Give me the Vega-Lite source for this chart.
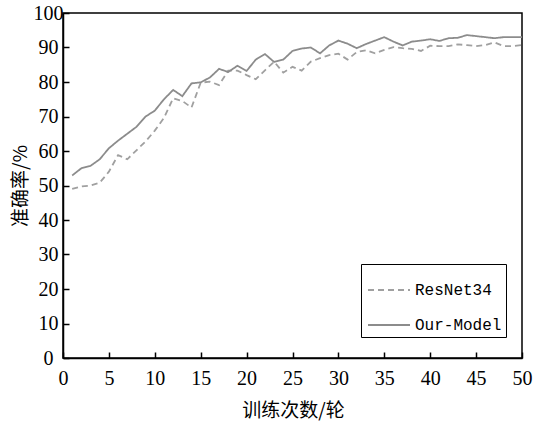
{
  "$schema": "https://vega.github.io/schema/vega-lite/v6.json",
  "width": 459,
  "height": 345,
  "autosize": {"type": "none"},
  "padding": {"left": 63, "top": 13, "right": 11, "bottom": 63},
  "background": "white",
  "config": {
    "view": {"stroke": "black", "strokeWidth": 1.5},
    "axis": {
      "grid": false,
      "domainColor": "black",
      "domainWidth": 1.5,
      "tickColor": "black",
      "tickWidth": 1.5,
      "tickSize": -6,
      "labelFont": "Liberation Serif",
      "labelFontSize": 20,
      "labelColor": "black",
      "titleFont": "Noto Sans CJK SC",
      "titleFontSize": 19,
      "titleFontWeight": "normal",
      "titleColor": "black"
    },
    "legend": {
      "strokeColor": "black",
      "fillColor": "white",
      "padding": 4,
      "symbolType": "stroke",
      "symbolSize": 1764,
      "symbolStrokeWidth": 1.8,
      "symbolOffset": 2,
      "rowPadding": 5,
      "labelOffset": 4,
      "labelFont": "Liberation Mono",
      "labelFontSize": 16,
      "labelColor": "black",
      "labelLimit": 200
    }
  },
  "data": {
    "values": [
      {"epoch": 1, "ResNet34": 49.0, "Our-Model": 52.9},
      {"epoch": 2, "ResNet34": 49.7, "Our-Model": 55.0},
      {"epoch": 3, "ResNet34": 50.0, "Our-Model": 55.7},
      {"epoch": 4, "ResNet34": 50.8, "Our-Model": 57.6},
      {"epoch": 5, "ResNet34": 54.0, "Our-Model": 60.8},
      {"epoch": 6, "ResNet34": 58.8, "Our-Model": 63.0},
      {"epoch": 7, "ResNet34": 57.6, "Our-Model": 65.0},
      {"epoch": 8, "ResNet34": 60.2, "Our-Model": 67.0},
      {"epoch": 9, "ResNet34": 62.8, "Our-Model": 70.0},
      {"epoch": 10, "ResNet34": 65.9, "Our-Model": 71.7},
      {"epoch": 11, "ResNet34": 69.6, "Our-Model": 75.0},
      {"epoch": 12, "ResNet34": 75.3, "Our-Model": 77.7},
      {"epoch": 13, "ResNet34": 74.5, "Our-Model": 75.9},
      {"epoch": 14, "ResNet34": 72.6, "Our-Model": 79.6},
      {"epoch": 15, "ResNet34": 79.8, "Our-Model": 79.9},
      {"epoch": 16, "ResNet34": 80.1, "Our-Model": 81.3},
      {"epoch": 17, "ResNet34": 79.1, "Our-Model": 83.8},
      {"epoch": 18, "ResNet34": 83.3, "Our-Model": 82.9},
      {"epoch": 19, "ResNet34": 83.3, "Our-Model": 84.7},
      {"epoch": 20, "ResNet34": 82.0, "Our-Model": 83.2},
      {"epoch": 21, "ResNet34": 80.8, "Our-Model": 86.5},
      {"epoch": 22, "ResNet34": 83.4, "Our-Model": 88.1},
      {"epoch": 23, "ResNet34": 85.9, "Our-Model": 85.8},
      {"epoch": 24, "ResNet34": 82.7, "Our-Model": 86.5},
      {"epoch": 25, "ResNet34": 84.4, "Our-Model": 89.0},
      {"epoch": 26, "ResNet34": 83.3, "Our-Model": 89.7},
      {"epoch": 27, "ResNet34": 85.9, "Our-Model": 90.0},
      {"epoch": 28, "ResNet34": 86.9, "Our-Model": 88.3},
      {"epoch": 29, "ResNet34": 87.8, "Our-Model": 90.6},
      {"epoch": 30, "ResNet34": 88.2, "Our-Model": 92.0},
      {"epoch": 31, "ResNet34": 86.5, "Our-Model": 91.1},
      {"epoch": 32, "ResNet34": 88.7, "Our-Model": 89.8},
      {"epoch": 33, "ResNet34": 89.2, "Our-Model": 91.0},
      {"epoch": 34, "ResNet34": 88.3, "Our-Model": 92.0},
      {"epoch": 35, "ResNet34": 89.3, "Our-Model": 93.0},
      {"epoch": 36, "ResNet34": 90.1, "Our-Model": 91.7},
      {"epoch": 37, "ResNet34": 89.8, "Our-Model": 90.6},
      {"epoch": 38, "ResNet34": 89.6, "Our-Model": 91.7},
      {"epoch": 39, "ResNet34": 89.0, "Our-Model": 92.0},
      {"epoch": 40, "ResNet34": 90.5, "Our-Model": 92.4},
      {"epoch": 41, "ResNet34": 90.4, "Our-Model": 91.9},
      {"epoch": 42, "ResNet34": 90.4, "Our-Model": 92.7},
      {"epoch": 43, "ResNet34": 90.9, "Our-Model": 92.8},
      {"epoch": 44, "ResNet34": 90.7, "Our-Model": 93.6},
      {"epoch": 45, "ResNet34": 90.4, "Our-Model": 93.3},
      {"epoch": 46, "ResNet34": 90.7, "Our-Model": 93.0},
      {"epoch": 47, "ResNet34": 91.5, "Our-Model": 92.7},
      {"epoch": 48, "ResNet34": 90.4, "Our-Model": 93.0},
      {"epoch": 49, "ResNet34": 90.4, "Our-Model": 93.0},
      {"epoch": 50, "ResNet34": 90.7, "Our-Model": 93.0}
    ]
  },
  "transform": [{"fold": ["ResNet34", "Our-Model"], "as": ["model", "acc"]}],
  "mark": {"type": "line", "strokeWidth": 1.8},
  "encoding": {
    "x": {
      "field": "epoch",
      "type": "quantitative",
      "scale": {"domain": [0, 50], "nice": false, "zero": false},
      "axis": {
        "values": [0, 5, 10, 15, 20, 25, 30, 35, 40, 45, 50],
        "title": "训练次数/轮",
        "labelPadding": 16,
        "labelFlush": false,
        "titleX": 230,
        "titleY": 52,
        "titleBaseline": "middle",
        "titleAlign": "center"
      }
    },
    "y": {
      "field": "acc",
      "type": "quantitative",
      "scale": {"domain": [0, 100], "nice": false},
      "axis": {
        "values": [0, 10, 20, 30, 40, 50, 60, 70, 80, 90, 100],
        "title": "准确率/%",
        "labelAlign": "center",
        "labelPadding": 21,
        "labelFlush": false,
        "titleAngle": -90,
        "titleX": -43,
        "titleY": 172.5,
        "titleBaseline": "middle",
        "titleAlign": "center"
      }
    },
    "color": {
      "field": "model",
      "type": "nominal",
      "scale": {"domain": ["ResNet34", "Our-Model"], "range": ["#a0a0a0", "#8c8c8c"]},
      "legend": {"orient": "none", "legendX": 298, "legendY": 251, "title": null}
    },
    "strokeDash": {
      "field": "model",
      "type": "nominal",
      "scale": {"domain": ["ResNet34", "Our-Model"], "range": [[6, 4], [1, 0]]},
      "legend": {"orient": "none", "legendX": 298, "legendY": 251, "title": null}
    }
  }
}
